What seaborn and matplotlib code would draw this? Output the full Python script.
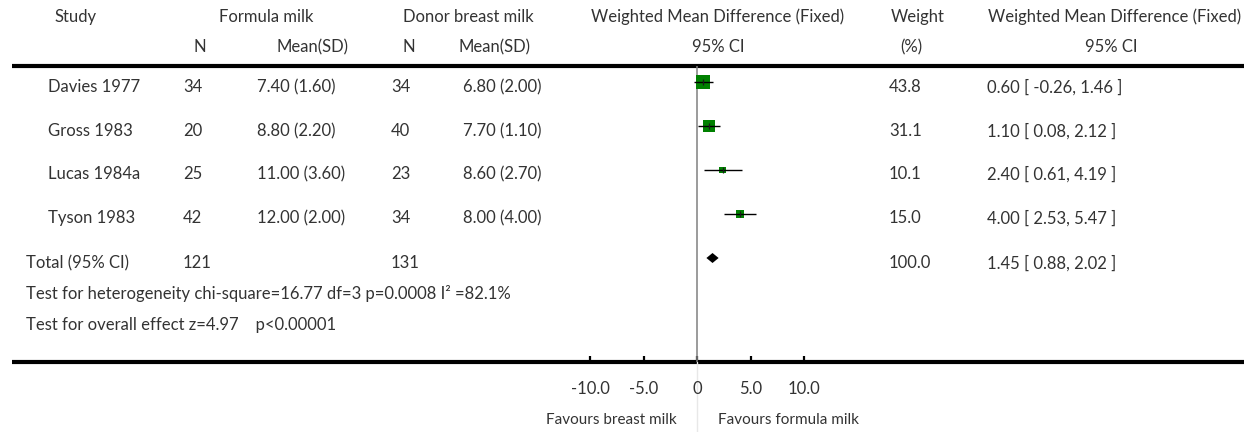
import matplotlib
matplotlib.use("Agg")
import matplotlib.pyplot as plt
import seaborn as sns
import pandas as pd

# ---------------- data ----------------
studies = ["Davies 1977", "Gross 1983", "Lucas 1984a", "Tyson 1983"]
n_formula = [34, 20, 25, 42]
mean_formula = [7.40, 8.80, 11.00, 12.00]
sd_formula = [1.60, 2.20, 3.60, 2.00]
n_donor = [34, 40, 23, 34]
mean_donor = [6.80, 7.70, 8.60, 8.00]
sd_donor = [2.00, 1.10, 2.70, 4.00]
weights = [43.8, 31.1, 10.1, 15.0]
wmd = [0.60, 1.10, 2.40, 4.00]
ci_lo = [-0.26, 0.08, 0.61, 2.53]
ci_hi = [1.46, 2.12, 4.19, 5.47]

total_n_formula = 121
total_n_donor = 131
total_weight = 100.0
total_wmd = 1.45
total_lo = 0.88
total_hi = 2.02

heterogeneity_text = "Test for heterogeneity chi-square=16.77 df=3 p=0.0008 I² =82.1%"
overall_text = "Test for overall effect z=4.97    p<0.00001"

x_ticks = [-10, -5, 0, 5, 10]
x_tick_labels = ["-10.0", "-5.0", "0", "5.0", "10.0"]
favours_left = "Favours breast milk"
favours_right = "Favours formula milk"

# ---------------- style ----------------
sns.set_theme(style="white")
plt.rcParams["font.family"] = ["Lato", "DejaVu Sans"]
TXT = "#333333"
FS = 12

W, H = 1257, 432
fig = plt.figure(figsize=(W / 100, H / 100), dpi=100)

# text layer in pixel coordinates
axt = fig.add_axes([0, 0, 1, 1])
axt.set_xlim(0, W)
axt.set_ylim(H, 0)
axt.axis("off")

def t(x, y, s, ha="left", fs=FS):
    axt.text(x, y, s, ha=ha, va="center", fontsize=fs, color=TXT)

# headers
hy1, hy2 = 17, 47
t(76, hy1, "Study", "center")
t(266, hy1, "Formula milk", "center")
t(468, hy1, "Donor breast milk", "center")
t(718, hy1, "Weighted Mean Difference (Fixed)", "center")
t(918, hy1, "Weight", "center")
t(1115, hy1, "Weighted Mean Difference (Fixed)", "center")
t(200, hy2, "N", "center")
t(313, hy2, "Mean(SD)", "center")
t(409, hy2, "N", "center")
t(495, hy2, "Mean(SD)", "center")
t(718, hy2, "95% CI", "center")
t(911, hy2, "(%)", "center")
t(1111, hy2, "95% CI", "center")

# rows
row_text_y = [87, 131, 174, 218]
for i, s in enumerate(studies):
    y = row_text_y[i]
    t(48, y, s)
    t(183, y, f"{n_formula[i]}")
    t(257, y, f"{mean_formula[i]:.2f} ({sd_formula[i]:.2f})")
    t(391, y, f"{n_donor[i]}")
    t(463, y, f"{mean_donor[i]:.2f} ({sd_donor[i]:.2f})")
    t(889, y, f"{weights[i]:.1f}")
    t(987, y, f"{wmd[i]:.2f} [ {ci_lo[i]:.2f}, {ci_hi[i]:.2f} ]")

ty = 263
t(26, ty, "Total (95% CI)")
t(183, ty, f"{total_n_formula}")
t(391, ty, f"{total_n_donor}")
t(889, ty, f"{total_weight:.1f}")
t(987, ty, f"{total_wmd:.2f} [ {total_lo:.2f}, {total_hi:.2f} ]")
t(26, 294, heterogeneity_text)
t(26, 325, overall_text)

# horizontal rules
axt.plot([12, 1244], [65.5, 65.5], color="black", lw=3, solid_capstyle="butt")
axt.plot([12, 1244], [362, 362], color="black", lw=3, solid_capstyle="butt")

# favours labels
t(611, 420, favours_left, "center", fs=11)
t(789, 420, favours_right, "center", fs=11)

# ---------------- forest axes ----------------
px_per_unit = 10.7
x0_px = 697
xlim = (-15, 15)
left_px = x0_px + xlim[0] * px_per_unit
width_px = (xlim[1] - xlim[0]) * px_per_unit
top_px, bot_px = 66, 362
row0_px, row_step = 82, 44
axf = fig.add_axes([left_px / W, (H - bot_px) / H, width_px / W, (bot_px - top_px) / H])
axf.set_facecolor("none")
axf.set_xlim(*xlim)
axf.set_ylim((bot_px - row0_px) / row_step, (top_px - row0_px) / row_step)
for sp in axf.spines.values():
    sp.set_visible(False)

df = pd.DataFrame({"study": studies, "wmd": wmd, "lo": ci_lo, "hi": ci_hi,
                   "weight": weights, "row": list(range(len(studies)))})

axf.axvline(0, color="#808080", lw=1.1, zorder=1)
axf.axvline(0, ymin=-0.25, ymax=0, color="#e8e8e8", lw=1.0, clip_on=False, zorder=0)

sns.scatterplot(data=df, x="wmd", y="row", size="weight", sizes=(0, 233),
                size_norm=(0, 100), marker="s", color="#008000", linewidth=0,
                legend=False, ax=axf, zorder=2)
axf.hlines(df["row"], df["lo"], df["hi"], color="black", lw=1.0, zorder=3)
axf.scatter(df["wmd"], df["row"], marker="|", s=14, color="#1a1a1a", linewidths=0.9, zorder=4)

trow = len(studies)
h = 5 / row_step
axf.fill([total_lo, total_wmd, total_hi, total_wmd], [trow, trow - h, trow, trow + h],
         color="black", lw=0, zorder=3)

axf.set_xticks(x_ticks)
axf.set_xticklabels(x_tick_labels)
axf.set_yticks([])
axf.set_xlabel("")
axf.set_ylabel("")
axf.tick_params(axis="x", direction="in", length=4.5, width=1.6, color="black",
                labelsize=FS, labelcolor=TXT, pad=14, bottom=True)

fig.savefig("out.png", dpi=100)
